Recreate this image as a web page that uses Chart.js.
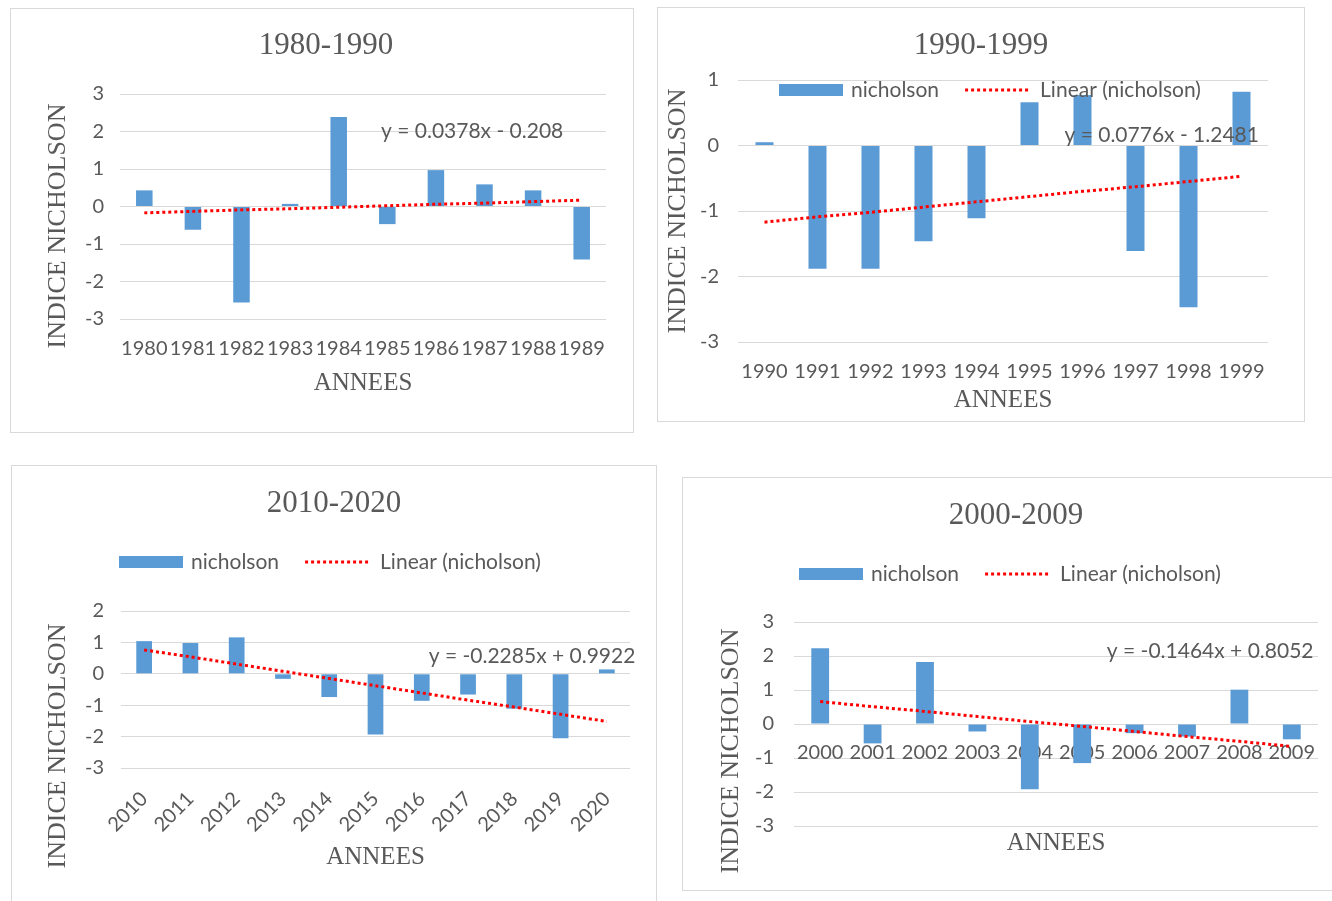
<!DOCTYPE html>
<html>
<head>
<meta charset="utf-8">
<title>Indice Nicholson</title>
<script src="https://cdn.jsdelivr.net/npm/chart.js@4.4.1/dist/chart.umd.min.js"></script>
<style>
  body { margin: 0; background: #fff; width: 1332px; height: 901px; overflow: hidden; position: relative; }
  .panel { position: absolute; box-sizing: border-box; border: 1px solid #d9d9d9; background: #fff; overflow: hidden; }
  .panel canvas { position: absolute; left: 0; top: 0; }
</style>
</head>
<body>
<div class="panel" style="left:10px;top:8px;width:624px;height:425px"><canvas id="chart-1980" width="624" height="425"></canvas></div>
<div class="panel" style="left:657px;top:7px;width:648px;height:415px"><canvas id="chart-1990" width="648" height="415"></canvas></div>
<div class="panel" style="left:11px;top:465px;width:646px;height:440px"><canvas id="chart-2010" width="646" height="440"></canvas></div>
<div class="panel" style="left:682px;top:477px;width:660px;height:414px"><canvas id="chart-2000" width="660" height="414"></canvas></div>
<script>
// values
const years1980 = ["1980", "1981", "1982", "1983", "1984", "1985", "1986", "1987", "1988", "1989"];
const nicholson1980 = [0.43, -0.62, -2.56, 0.07, 2.39, -0.47, 0.97, 0.59, 0.43, -1.41];
const trend1980 = [-0.17, -0.13, -0.09, -0.06, -0.02, 0.02, 0.06, 0.09, 0.13, 0.17];

const years1990 = ["1990", "1991", "1992", "1993", "1994", "1995", "1996", "1997", "1998", "1999"];
const nicholson1990 = [0.05, -1.88, -1.88, -1.46, -1.11, 0.66, 0.77, -1.61, -2.47, 0.82];
const trend1990 = [-1.17, -1.09, -1.02, -0.94, -0.86, -0.78, -0.7, -0.63, -0.55, -0.47];

const years2010 = ["2010", "2011", "2012", "2013", "2014", "2015", "2016", "2017", "2018", "2019", "2020"];
const nicholson2010 = [1.04, 0.98, 1.16, -0.16, -0.74, -1.93, -0.86, -0.66, -1.11, -2.05, 0.14];
const trend2010 = [0.76, 0.54, 0.31, 0.08, -0.15, -0.38, -0.61, -0.84, -1.06, -1.29, -1.52];

const years2000 = ["2000", "2001", "2002", "2003", "2004", "2005", "2006", "2007", "2008", "2009"];
const nicholson2000 = [2.23, -0.57, 1.82, -0.22, -1.92, -1.15, -0.27, -0.37, 1.01, -0.45];
const trend2000 = [0.66, 0.51, 0.37, 0.22, 0.07, -0.07, -0.22, -0.37, -0.51, -0.66];

const GREY = "#595959";
const BLUE = "#5b9bd5";
const RED = "#ff0000";
const SERIF = "'Liberation Serif', 'Times New Roman', serif";
const SANS = "Lato, 'Open Sans', sans-serif";

// title, y title, legend + trend equation drawn like excel places them
const panelDecor = {
  id: "panelDecor",
  afterDatasetsDraw(chart, args, opts) {
    const ctx = chart.ctx;
    ctx.save();
    ctx.fillStyle = GREY;
    ctx.textAlign = "center";
    ctx.textBaseline = "middle";

    ctx.font = "31px " + SERIF;
    ctx.fillText(opts.title.text, opts.title.x, opts.title.y);

    ctx.save();
    ctx.font = "26px " + SERIF;
    ctx.translate(opts.yTitle.x, opts.yTitle.y);
    ctx.rotate(-Math.PI / 2);
    ctx.fillText("INDICE NICHOLSON", 0, 0);
    ctx.restore();

    ctx.textAlign = "left";
    if (opts.legend) {
      const bar = chart.data.datasets[1];
      const line = chart.data.datasets[0];
      let x = opts.legend.x;
      const y = opts.legend.y;
      ctx.font = "21px " + SANS;
      ctx.fillStyle = bar.backgroundColor;
      ctx.fillRect(x, y - 6, 64, 12);
      x += 72;
      ctx.fillStyle = GREY;
      ctx.fillText(bar.label, x, y);
      x += ctx.measureText(bar.label).width + 26;
      ctx.strokeStyle = line.borderColor;
      ctx.lineWidth = 3;
      ctx.setLineDash([3, 3]);
      ctx.beginPath();
      ctx.moveTo(x, y);
      ctx.lineTo(x + 65, y);
      ctx.stroke();
      ctx.setLineDash([]);
      x += 75;
      ctx.fillText(line.label, x, y);
    }
    if (opts.equation) {
      ctx.font = "21px " + SANS;
      const ex = chart.scales.x.getPixelForValue(opts.equation.at[0]);
      const ey = chart.scales.y.getPixelForValue(opts.equation.at[1]);
      ctx.fillText(opts.equation.text, ex, ey);
    }
    ctx.restore();
  },
};

function makeChart(id, o) {
  const xScale = {
    axis: "x",
    position: o.xAtZero ? { y: 0 } : "bottom",
    grid: { display: false, drawTicks: false },
    border: { display: false },
    ticks: {
      color: GREY,
      font: { family: SANS, size: 20 },
      padding: o.xTickPad,
      autoSkip: false,
      maxRotation: o.rotate || 0,
      minRotation: o.rotate || 0,
    },
  };
  const annees = {
    display: true,
    text: "ANNEES",
    color: GREY,
    font: { family: SERIF, size: 25 },
    padding: { top: 0, bottom: o.xTitleBottom },
  };
  const scales = {
    x: xScale,
    y: {
      min: o.yMin,
      max: o.yMax,
      ticks: { stepSize: 1, color: GREY, font: { family: SANS, size: 20 }, padding: o.yTickPad },
      grid: { color: "#d9d9d9", drawTicks: false },
      border: { display: false },
      afterFit: (s) => { s.width = o.yWidth; },
    },
  };
  if (o.xAtZero) {
    // labels sit next to the zero line, title stays at the bottom
    scales.xb = {
      axis: "x",
      type: "category",
      position: "bottom",
      grid: { display: false, drawTicks: false },
      border: { display: false },
      ticks: { display: false },
      title: annees,
      afterFit: (s) => { s.height = o.xHeight; },
    };
  } else {
    xScale.title = annees;
    xScale.afterFit = (s) => { s.height = o.xHeight; };
  }

  return new Chart(document.getElementById(id), {
    data: {
      labels: o.labels,
      datasets: [
        {
          type: "line",
          label: "Linear (nicholson)",
          data: o.trend,
          borderColor: RED,
          borderWidth: 3,
          borderDash: [3, 3],
          pointRadius: 0,
          fill: false,
          order: 0,
        },
        {
          type: "bar",
          label: "nicholson",
          data: o.values,
          backgroundColor: BLUE,
          categoryPercentage: 1,
          barPercentage: 0.34,
          order: 1,
        },
      ],
    },
    options: {
      responsive: false,
      animation: false,
      layout: { padding: { left: 0, right: o.padRight, top: o.padTop, bottom: 0 } },
      plugins: {
        legend: { display: false },
        tooltip: { enabled: false },
        title: { display: false },
        panelDecor: { title: o.title, yTitle: o.yTitle, legend: o.legend, equation: o.equation },
      },
      scales: scales,
    },
    plugins: [panelDecor],
  });
}

makeChart("chart-1980", {
  title: { text: "1980-1990", x: 315, y: 37 },
  yTitle: { x: 47, y: 217 },
  labels: years1980,
  values: nicholson1980,
  trend: trend1980,
  yMin: -3, yMax: 3,
  padTop: 85,
  yWidth: 109, yTickPad: 16,
  xHeight: 115, xTickPad: 18, xTitleBottom: 36,
  padRight: 29,
  equation: { text: "y = 0.0378x - 0.208", at: [4.87, 2.0] },
});

makeChart("chart-1990", {
  title: { text: "1990-1999", x: 323, y: 38 },
  yTitle: { x: 20, y: 203 },
  labels: years1990,
  values: nicholson1990,
  trend: trend1990,
  yMin: -3, yMax: 1,
  padTop: 72,
  yWidth: 80, yTickPad: 19,
  xHeight: 81, xTickPad: 18, xTitleBottom: 8,
  padRight: 38,
  legend: { x: 121, y: 82 },
  equation: { text: "y = 0.0776x - 1.2481", at: [5.66, 0.15] },
});

makeChart("chart-2010", {
  title: { text: "2010-2020", x: 322, y: 38 },
  yTitle: { x: 46, y: 280 },
  labels: years2010,
  values: nicholson2010,
  trend: trend2010,
  yMin: -3, yMax: 2,
  padTop: 145,
  yWidth: 109, yTickPad: 17,
  xHeight: 138, xTickPad: 19, xTitleBottom: 34, rotate: 45,
  padRight: 28,
  legend: { x: 107, y: 96 },
  equation: { text: "y = -0.2285x + 0.9922", at: [6.15, 0.57] },
});

makeChart("chart-2000", {
  title: { text: "2000-2009", x: 333, y: 38 },
  yTitle: { x: 48, y: 273 },
  labels: years2000,
  values: nicholson2000,
  trend: trend2000,
  yMin: -3, yMax: 3,
  padTop: 144,
  yWidth: 111, yTickPad: 20,
  xAtZero: true,
  xHeight: 66, xTickPad: 17, xTitleBottom: 34,
  padRight: 25,
  legend: { x: 116, y: 96 },
  equation: { text: "y = -0.1464x + 0.8052", at: [5.47, 2.15] },
});
</script>
</body>
</html>
